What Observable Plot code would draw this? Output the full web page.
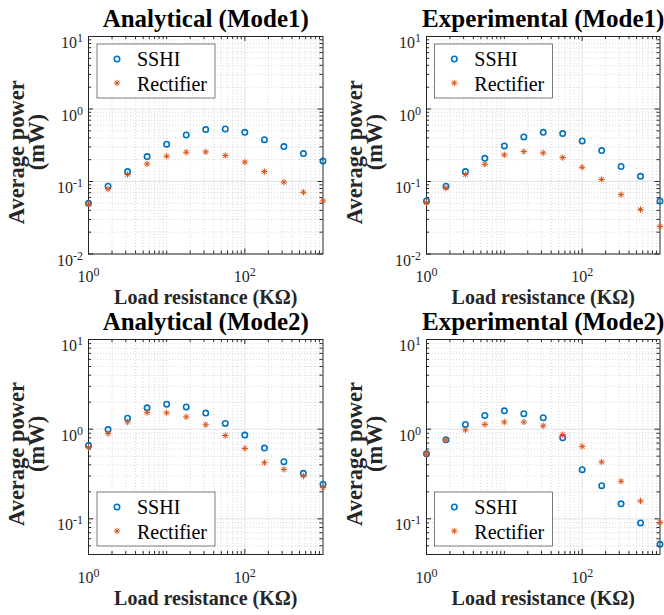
<!DOCTYPE html>
<html><head><meta charset="utf-8">
<script src="https://cdn.jsdelivr.net/npm/d3@7"></script>
<script src="https://cdn.jsdelivr.net/npm/@observablehq/plot@0.6"></script>
<style>
html,body{margin:0;padding:0;background:#fff;}
#chart{position:relative;width:664px;height:615px;background:#fff;overflow:hidden;}
#chart svg{position:absolute;overflow:visible;}
</style></head><body><div id="chart"></div>
<script>
// ---- data ----
const resistance = [1, 1.78, 3.16, 5.62, 10, 17.8, 31.6, 56.2, 100, 178, 316, 562, 1000];
const anaMode1SSHI = [0.050, 0.086, 0.137, 0.221, 0.327, 0.438, 0.52, 0.53, 0.477, 0.378, 0.303, 0.243, 0.192];
const anaMode1Rect = [0.049, 0.079, 0.125, 0.175, 0.223, 0.253, 0.256, 0.228, 0.185, 0.137, 0.098, 0.071, 0.054];
const expMode1SSHI = [0.054, 0.086, 0.137, 0.209, 0.31, 0.412, 0.477, 0.458, 0.363, 0.267, 0.161, 0.118, 0.054];
const expMode1Rect = [0.051, 0.081, 0.125, 0.173, 0.233, 0.259, 0.248, 0.214, 0.157, 0.107, 0.066, 0.041, 0.024];
const anaMode2SSHI = [0.659, 0.99, 1.325, 1.73, 1.90, 1.77, 1.51, 1.16, 0.858, 0.615, 0.434, 0.322, 0.243];
const anaMode2Rect = [0.626, 0.895, 1.20, 1.53, 1.52, 1.37, 1.12, 0.85, 0.61, 0.423, 0.356, 0.30, 0.223];
const expMode2SSHI = [0.532, 0.76, 1.13, 1.42, 1.60, 1.49, 1.34, 0.80, 0.353, 0.234, 0.147, 0.090, 0.052];
const expMode2Rect = [0.532, 0.76, 0.98, 1.13, 1.20, 1.20, 1.09, 0.87, 0.642, 0.43, 0.262, 0.158, 0.091];

const titles = ["Analytical (Mode1)", "Experimental (Mode1)", "Analytical (Mode2)", "Experimental (Mode2)"];
const seriesNames = ["SSHI", "Rectifier"];
const xLabel = "Load resistance (K\u03A9)";
const yLabelLines = ["Average power", "(mW)"];

const xTicks = [1, 100];
const xMinor = [2,3,4,5,6,7,8,9,10,20,30,40,50,60,70,80,90,200,300,400,500,600,700,800,900];
const yTicksTop = [0.01, 0.1, 1, 10];
const yMinorTop = [0.02,0.03,0.04,0.05,0.06,0.07,0.08,0.09,0.2,0.3,0.4,0.5,0.6,0.7,0.8,0.9,2,3,4,5,6,7,8,9];
const yTicksBottom = [0.1, 1, 10];
const yMinorBottom = [0.05,0.06,0.07,0.08,0.09,0.2,0.3,0.4,0.5,0.6,0.7,0.8,0.9,2,3,4,5,6,7,8,9];

// ---- style ----
const BLUE = "#0072BD", ORANGE = "#D95319", AX = "#262626";
const FONT = '"Liberation Serif", "Times New Roman", serif';

const asterisk = {
  draw(ctx, size) {
    const r = Math.sqrt(size / Math.PI), d = r * Math.SQRT1_2;
    ctx.moveTo(-r, 0); ctx.lineTo(r, 0);
    ctx.moveTo(0, -r); ctx.lineTo(0, r);
    ctx.moveTo(-d, -d); ctx.lineTo(d, d);
    ctx.moveTo(-d, d); ctx.lineTo(d, -d);
  }
};

function panel(cfg) {
  const {left, top, width, height, ml, mr, mt, mb, title, sshi, rect, yDomain, yTicks, yMinor, legX, legY} = cfg;
  const ih = height - mt - mb, iw = width - ml - mr;
  const table = resistance.map((r, i) => ({r, sshi: sshi[i], rect: rect[i]}));
  const expText = d => String(Math.round(Math.log10(d)));
  const svg = Plot.plot({
    width, height, marginLeft: ml, marginRight: mr, marginTop: mt, marginBottom: mb,
    style: {fontFamily: FONT, background: "transparent", overflow: "visible"},
    x: {type: "log", domain: [1, 1000], axis: null},
    y: {type: "log", domain: yDomain, axis: null},
    marks: [
      Plot.ruleX(xMinor, {stroke: "#cfcfcf", strokeDasharray: "1,2", strokeWidth: 0.8}),
      Plot.ruleY(yMinor, {stroke: "#cfcfcf", strokeDasharray: "1,2", strokeWidth: 0.8}),
      Plot.ruleX(xTicks, {stroke: "#e2e2e2"}),
      Plot.ruleY(yTicks, {stroke: "#e2e2e2"}),
      Plot.frame({stroke: AX}),
      Plot.ruleX(xTicks, {stroke: AX, insetTop: ih - 5}),
      Plot.ruleX(xTicks, {stroke: AX, insetBottom: ih - 5}),
      Plot.ruleX(xMinor, {stroke: AX, insetTop: ih - 3}),
      Plot.ruleX(xMinor, {stroke: AX, insetBottom: ih - 3}),
      Plot.ruleY(yTicks, {stroke: AX, insetRight: iw - 5}),
      Plot.ruleY(yTicks, {stroke: AX, insetLeft: iw - 5}),
      Plot.ruleY(yMinor, {stroke: AX, insetRight: iw - 3}),
      Plot.ruleY(yMinor, {stroke: AX, insetLeft: iw - 3}),
      Plot.dot(table, {x: "r", y: "sshi", r: 2.7, stroke: BLUE, strokeWidth: 1.6, fill: "none"}),
      Plot.dot(table, {x: "r", y: "rect", r: 3.2, symbol: asterisk, stroke: ORANGE, strokeWidth: 1, fill: "none"}),
      Plot.text(xTicks, {x: d => d, frameAnchor: "bottom", lineAnchor: "bottom", dy: 28, text: expText, fontSize: 16, fill: AX}),
      Plot.text(yTicks, {y: d => d, frameAnchor: "left", textAnchor: "end", lineAnchor: "bottom", dx: -5.5, dy: 11.5, text: expText, fontSize: 16, fill: AX}),
      Plot.text([title], {frameAnchor: "top", textAnchor: "middle", lineAnchor: "bottom", dy: -9.5, fontSize: 25, fontWeight: "bold", fill: "#000"}),
      Plot.text([xLabel], {frameAnchor: "bottom", textAnchor: "middle", lineAnchor: "bottom", dy: 50, fontSize: 20, fontWeight: "bold", fill: AX}),
      Plot.text([yLabelLines[0]], {frameAnchor: "left", textAnchor: "middle", rotate: -90, lineAnchor: "bottom", dx: -65, dy: 7, fontSize: 22.5, fontWeight: "bold", fill: AX}),
      Plot.text([yLabelLines[1]], {frameAnchor: "left", textAnchor: "middle", rotate: -90, lineAnchor: "bottom", dx: -45, dy: -3, fontSize: 22.5, fontWeight: "bold", fill: AX})
    ]
  });
  svg.style.left = left + "px";
  svg.style.top = top + "px";
  const s = d3.select(svg);
  // tick labels: turn exponent text into 10 with a raised exponent
  s.selectAll("text").each(function () {
    const e = this.textContent;
    if (!/^-?\d$/.test(e)) return;
    const t = d3.select(this);
    t.text("10");
    t.append("tspan").attr("dy", "-0.5em").attr("font-size", 12).text(e);
  });
  // legend
  const bx = ml + legX, by = mt + legY;
  const g = s.append("g").attr("font-family", FONT).attr("text-anchor", "start");
  g.append("rect").attr("x", bx).attr("y", by).attr("width", 118).attr("height", 54)
    .attr("fill", "#fff").attr("stroke", AX).attr("stroke-width", 0.6);
  g.append("circle").attr("cx", bx + 20).attr("cy", by + 15).attr("r", 2.7)
    .attr("fill", "none").attr("stroke", BLUE).attr("stroke-width", 1.6);
  const p = d3.path();
  asterisk.draw(p, Math.PI * 3.2 * 3.2);
  g.append("path").attr("d", p.toString()).attr("transform", `translate(${bx + 20},${by + 39})`)
    .attr("fill", "none").attr("stroke", ORANGE).attr("stroke-width", 1);
  g.append("text").attr("x", bx + 40).attr("y", by + 22).attr("font-size", 20).attr("fill", "#000").text(seriesNames[0]);
  g.append("text").attr("x", bx + 40).attr("y", by + 47).attr("font-size", 20).attr("fill", "#000").text(seriesNames[1]);
  document.getElementById("chart").appendChild(svg);
}

const topRow = {top: 0, height: 310, mt: 36, mb: 56.5, yDomain: [0.01, 10], yTicks: yTicksTop, yMinor: yMinorTop, legY: 8};
const botRow = {top: 310, height: 305, mt: 29, mb: 61, yDomain: [0.04, 10], yTicks: yTicksBottom, yMinor: yMinorBottom, legY: 153};
const leftCol = {left: 0, width: 332, ml: 88, mr: 9.5, legX: 9};
const rightCol = {left: 332, width: 332, ml: 94, mr: 4.5, legX: 8.3};

panel({...topRow, ...leftCol, title: titles[0], sshi: anaMode1SSHI, rect: anaMode1Rect});
panel({...topRow, ...rightCol, title: titles[1], sshi: expMode1SSHI, rect: expMode1Rect});
panel({...botRow, ...leftCol, title: titles[2], sshi: anaMode2SSHI, rect: anaMode2Rect});
panel({...botRow, ...rightCol, title: titles[3], sshi: expMode2SSHI, rect: expMode2Rect});
</script>
</body></html>
